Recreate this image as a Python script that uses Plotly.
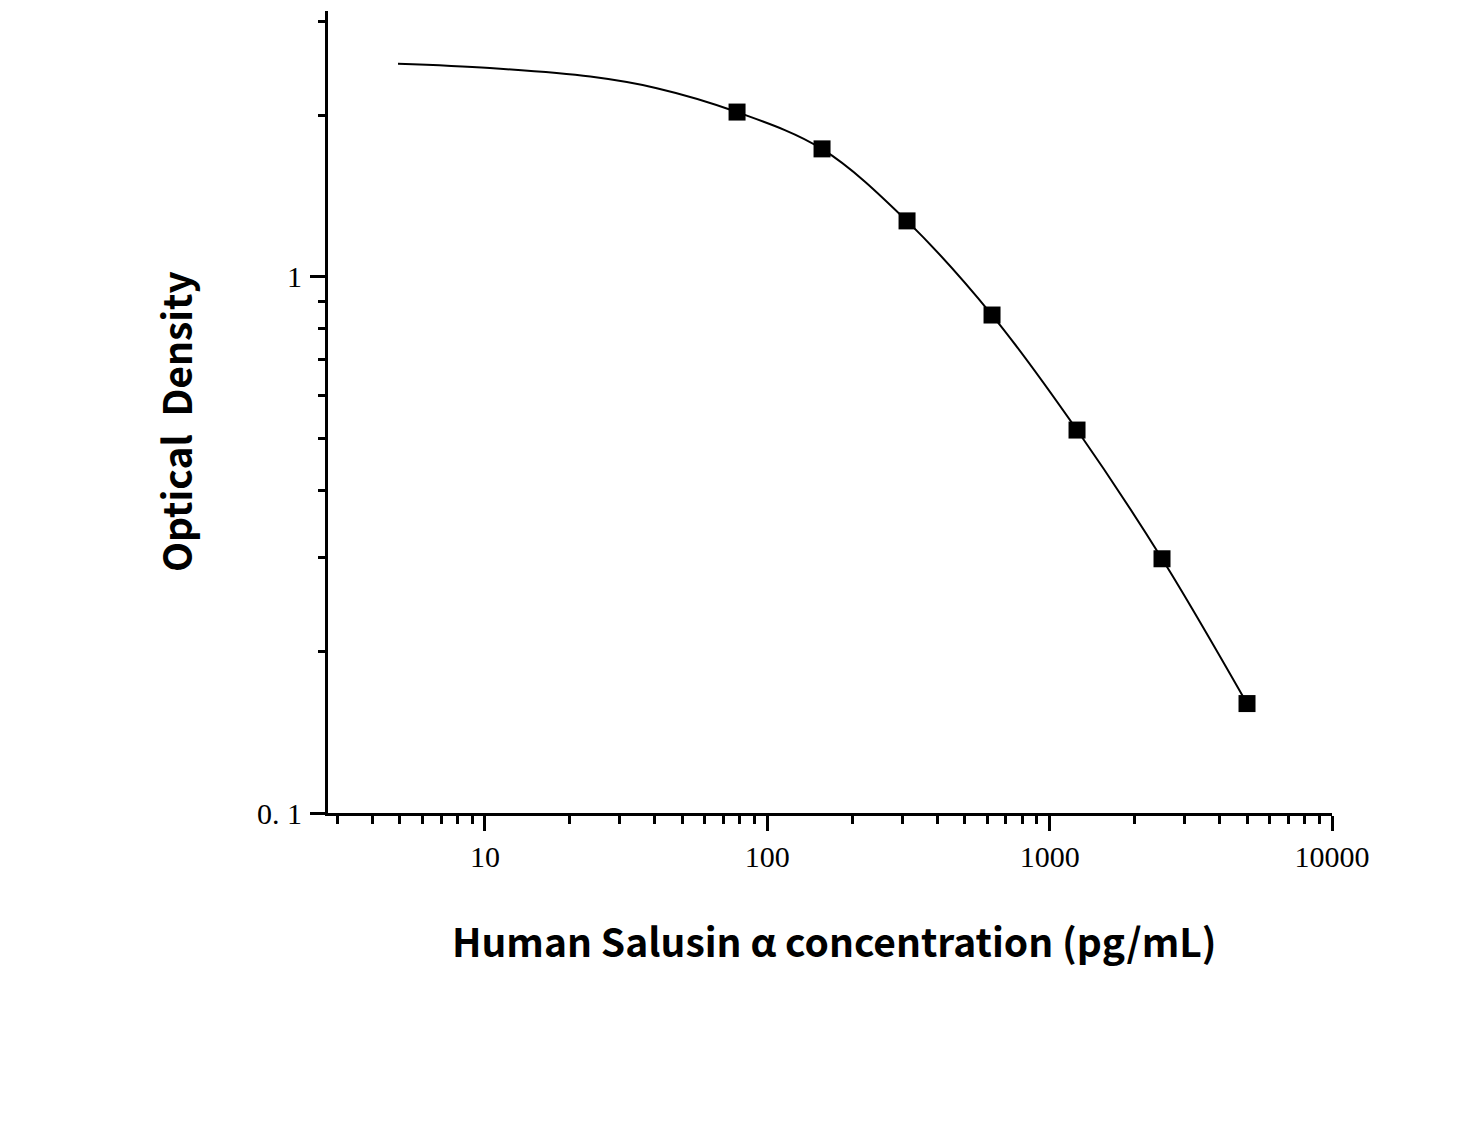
import plotly.graph_objects as go

# Standard points (concentration pg/mL, OD)
conc = [78.125, 156.25, 312.5, 625, 1250, 2500, 5000]
od = [2.03, 1.733, 1.272, 0.849, 0.518, 0.298, 0.160]

# Fitted curve
curve_x = [4.92, 10.4, 23.6, 40.6, 78.1, 156, 312, 625, 1250, 2500, 5000]
curve_y = [2.497, 2.452, 2.364, 2.249, 2.03, 1.733, 1.272, 0.849, 0.518, 0.298, 0.160]

x_ticks = [10, 100, 1000, 10000]
x_ticktext = ["10", "100", "1000", "10000"]
x_minor = [3, 4, 5, 6, 7, 8, 9, 20, 30, 40, 50, 60, 70, 80, 90,
           200, 300, 400, 500, 600, 700, 800, 900,
           2000, 3000, 4000, 5000, 6000, 7000, 8000, 9000]
y_ticks = [0.1, 1]
y_ticktext = ["0. 1", "1"]
y_minor = [0.2, 0.3, 0.4, 0.5, 0.6, 0.7, 0.8, 0.9, 2, 3]

x_title = "Human Salusin α concentration (pg/mL)"
y_title = "Optical  Density"

fig = go.Figure()
fig.add_trace(go.Scatter(x=curve_x, y=curve_y, mode="lines",
                         line=dict(color="black", width=2, shape="spline", smoothing=1.0),
                         hoverinfo="skip", showlegend=False))
fig.add_trace(go.Scatter(x=conc, y=od, mode="markers",
                         marker=dict(symbol="square", size=17, color="black"),
                         showlegend=False))

tickfont = dict(family="Liberation Serif, Times New Roman, serif", size=30, color="black")

# page body has an 8px offset
L, T, R, B = 328 - 8, 11 - 8, 1332 - 8, 813 - 8
W, H = 1477, 1122
pw, ph = R - L, B - T

fig.update_layout(
    width=W, height=H,
    paper_bgcolor="white", plot_bgcolor="white",
    margin=dict(l=L, r=W - R, t=T, b=H - B),
    showlegend=False,
    xaxis=dict(type="log", range=[0.444, 4.0], showgrid=False, zeroline=False,
               showline=True, linecolor="black", linewidth=3,
               tickmode="array", tickvals=x_ticks, ticktext=x_ticktext,
               ticks="outside", ticklen=15, tickwidth=3, tickcolor="black",
               tickfont=tickfont, ticklabelstandoff=0,
               minor=dict(tickvals=x_minor, ticks="outside", ticklen=8, tickwidth=3,
                          tickcolor="black", showgrid=False)),
    yaxis=dict(type="log", range=[-1.0, 0.496], showgrid=False, zeroline=False,
               showline=True, linecolor="black", linewidth=3,
               tickmode="array", tickvals=y_ticks, ticktext=y_ticktext,
               ticks="outside", ticklen=15, tickwidth=3, tickcolor="black",
               tickfont=tickfont, ticklabelstandoff=2,
               minor=dict(tickvals=y_minor, ticks="outside", ticklen=7, tickwidth=3,
                          tickcolor="black", showgrid=False)),
    annotations=[
        dict(text="<b>" + x_title + "</b>", xref="paper", yref="paper",
             x=(834 - 328) / pw, y=-(940 - 813) / ph, xanchor="center", yanchor="middle",
             showarrow=False,
             font=dict(family="Noto Sans CJK SC, Noto Sans, sans-serif", size=39, color="black")),
        dict(text="<b>" + y_title + "</b>", xref="paper", yref="paper",
             x=-(328 - 175) / pw, y=(813 - 422) / ph, xanchor="center", yanchor="middle",
             textangle=-90, showarrow=False,
             font=dict(family="Noto Sans CJK SC, Noto Sans, sans-serif", size=39, color="black")),
    ],
)

fig.write_html("out.html")
